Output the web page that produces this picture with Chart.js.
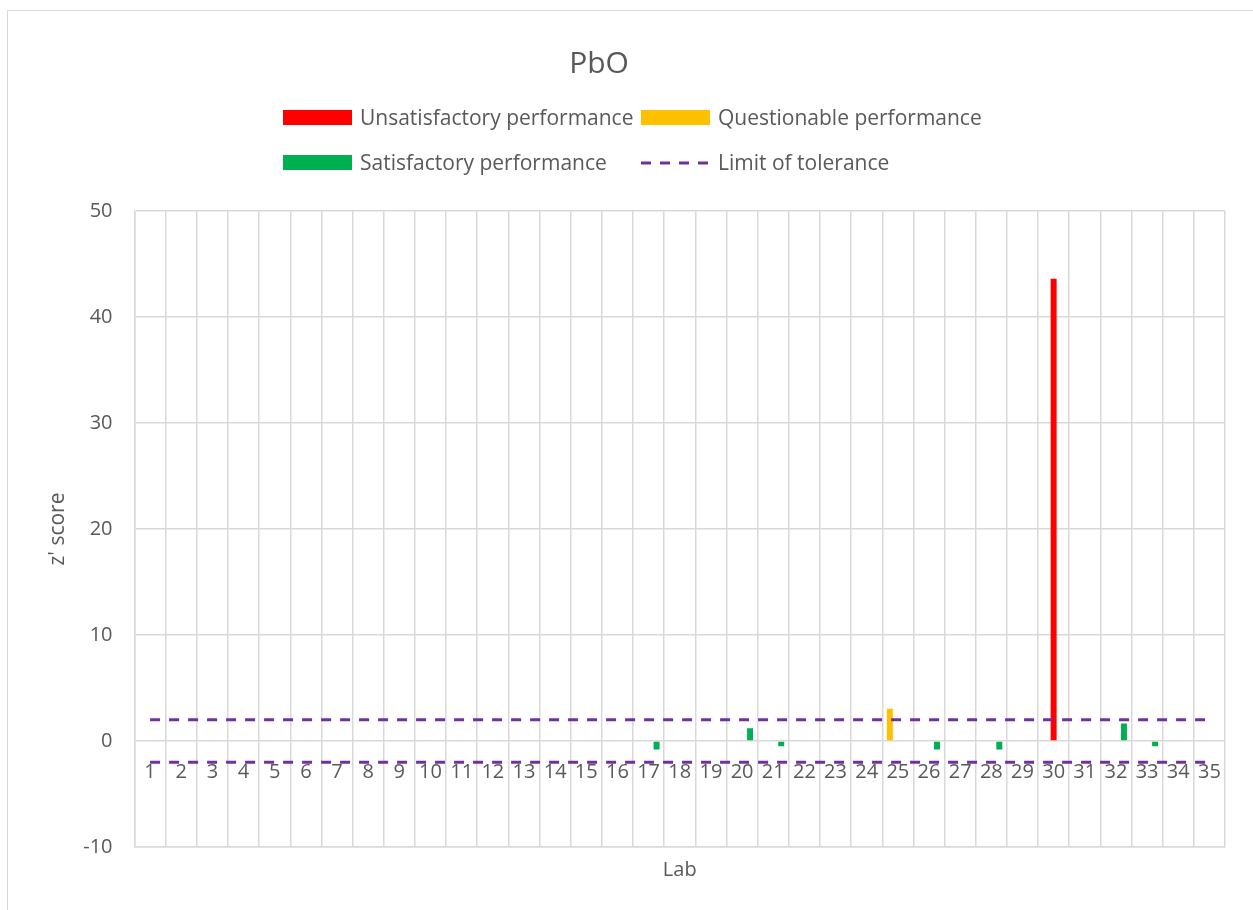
<!DOCTYPE html>
<html>
<head>
<meta charset="utf-8">
<title>PbO</title>
<script src="https://cdn.jsdelivr.net/npm/chart.js@4"></script>
<style>
    html, body { margin: 0; padding: 0; background: #fff; overflow: hidden; }
    #wrap { position: relative; width: 1253px; height: 910px; }
    #frame { position: absolute; left: 7px; top: 10px; width: 1260px; height: 920px; border: 1.5px solid #d9d9d9; box-sizing: border-box; }
    #chart { position: absolute; left: 0; top: 0; }
    #title { position: absolute; left: 499px; top: 42px; width: 200px; text-align: center; font-family: "Open Sans", sans-serif; font-size: 30px; line-height: 40px; color: #595959; }
    #legend { position: absolute; left: 0; top: 0; font-family: "Open Sans", sans-serif; font-size: 21px; color: #595959; }
    .item { position: absolute; height: 24px; line-height: 24px; white-space: nowrap; }
    .item .swatch { position: absolute; left: 0; top: 4px; width: 69px; height: 15px; }
    .item svg { position: absolute; left: 0; top: 10px; }
    .item span { position: absolute; left: 77px; top: -1px; }
</style>
</head>
<body>
<div id="wrap">
    <div id="frame"></div>
    <canvas id="chart" width="1253" height="910"></canvas>
    <div id="title">PbO</div>
    <div id="legend"></div>
</div>
<script>
// データ
const labs = ['1','2','3','4','5','6','7','8','9','10','11','12','13','14','15','16','17','18',
              '19','20','21','22','23','24','25','26','27','28','29','30','31','32','33','34','35'];
const unsatisfactory = [null,null,null,null,null,null,null,null,null,null,null,null,null,null,null,null,null,null,
                        null,null,null,null,null,null,null,null,null,null,null,43.6,null,null,null,null,null];
const questionable = [null,null,null,null,null,null,null,null,null,null,null,null,null,null,null,null,null,null,
                      null,null,null,null,null,null,3.05,null,null,null,null,null,null,null,null,null,null];
const satisfactory = [null,null,null,null,null,null,null,null,null,null,null,null,null,null,null,null,-0.8,null,
                      null,1.2,-0.5,null,null,null,null,-0.8,null,-0.8,null,null,null,1.65,-0.5,null,null];
const limitUpper = 2;
const limitLower = -2;
const yTicks = [-10, 0, 10, 20, 30, 40, 50];

const textColor = '#595959';
const gridColor = '#d9d9d9';
const font = '"Open Sans", sans-serif';

const colors = {
    unsat: '#ff0000',
    quest: '#ffc000',
    sat: '#00b050',
    limit: '#7030a0'
};

const firstLab = labs[0];
const lastLab = labs[labs.length - 1];

const ctx = document.getElementById('chart').getContext('2d');
const chart = new Chart(ctx, {
    type: 'bar',
    data: {
        labels: labs,
        datasets: [
            {
                label: 'Questionable performance',
                data: questionable,
                backgroundColor: colors.quest,
                order: 1
            },
            {
                label: 'Unsatisfactory performance',
                data: unsatisfactory,
                backgroundColor: colors.unsat,
                order: 1
            },
            {
                label: 'Satisfactory performance',
                data: satisfactory,
                backgroundColor: colors.sat,
                order: 1
            },
            {
                type: 'line',
                label: 'Limit of tolerance',
                data: [{x: firstLab, y: limitUpper}, {x: lastLab, y: limitUpper}],
                borderColor: colors.limit,
                borderWidth: 3,
                borderDash: [10, 9],
                pointRadius: 0,
                fill: false,
                order: 0
            },
            {
                type: 'line',
                label: 'Limit of tolerance (lower)',
                data: [{x: firstLab, y: limitLower}, {x: lastLab, y: limitLower}],
                borderColor: colors.limit,
                borderWidth: 3,
                borderDash: [10, 9],
                pointRadius: 0,
                fill: false,
                order: 0
            }
        ]
    },
    options: {
        responsive: false,
        animation: false,
        categoryPercentage: 0.77,
        barPercentage: 0.75,
        layout: {
            padding: { left: 32, right: 28, top: 211, bottom: 24 }
        },
        plugins: {
            legend: { display: false },
            tooltip: { enabled: false },
            title: { display: false }
        },
        scales: {
            x: {
                offset: true,
                grid: { offset: true, color: gridColor, lineWidth: 1.5, drawTicks: false },
                border: { color: gridColor, width: 1.5 },
                ticks: { display: false },
                title: {
                    display: true,
                    text: 'Lab',
                    color: textColor,
                    font: { family: font, size: 20 },
                    padding: { top: 11, bottom: 4 }
                }
            },
            x2: {
                type: 'category',
                labels: labs,
                offset: true,
                position: { y: 0 },
                grid: { display: false, drawTicks: false },
                border: { display: false },
                ticks: {
                    color: textColor,
                    font: { family: font, size: 20 },
                    padding: 19,
                    maxRotation: 0,
                    autoSkip: false
                }
            },
            y: {
                min: -10,
                max: 50,
                afterBuildTicks: function (scale) {
                    scale.ticks = yTicks.map(v => ({ value: v }));
                },
                grid: { color: gridColor, lineWidth: 1.5, drawTicks: false },
                border: { color: gridColor, width: 1.5 },
                ticks: {
                    color: textColor,
                    font: { family: font, size: 20 },
                    padding: 22
                },
                title: {
                    display: true,
                    text: "z' score",
                    color: textColor,
                    font: { family: font, size: 21 },
                    padding: { top: 13, bottom: -9 }
                }
            }
        }
    }
});

// 凡例 (HTML)
const legendItems = [
    { label: 'Unsatisfactory performance', color: colors.unsat, left: 283, top: 106 },
    { label: 'Questionable performance', color: colors.quest, left: 641, top: 106 },
    { label: 'Satisfactory performance', color: colors.sat, left: 283, top: 151 },
    { label: 'Limit of tolerance', color: colors.limit, left: 641, top: 151, dashed: true }
];
const legendEl = document.getElementById('legend');
legendItems.forEach(item => {
    const div = document.createElement('div');
    div.className = 'item';
    div.style.left = item.left + 'px';
    div.style.top = item.top + 'px';
    if (item.dashed) {
        div.innerHTML = '<svg width="69" height="4"><line x1="0" y1="2" x2="69" y2="2" stroke="' + item.color +
            '" stroke-width="3" stroke-dasharray="10 9"/></svg>';
    } else {
        div.innerHTML = '<div class="swatch" style="background:' + item.color + '"></div>';
    }
    const span = document.createElement('span');
    span.textContent = item.label;
    div.appendChild(span);
    legendEl.appendChild(div);
});
</script>
</body>
</html>
